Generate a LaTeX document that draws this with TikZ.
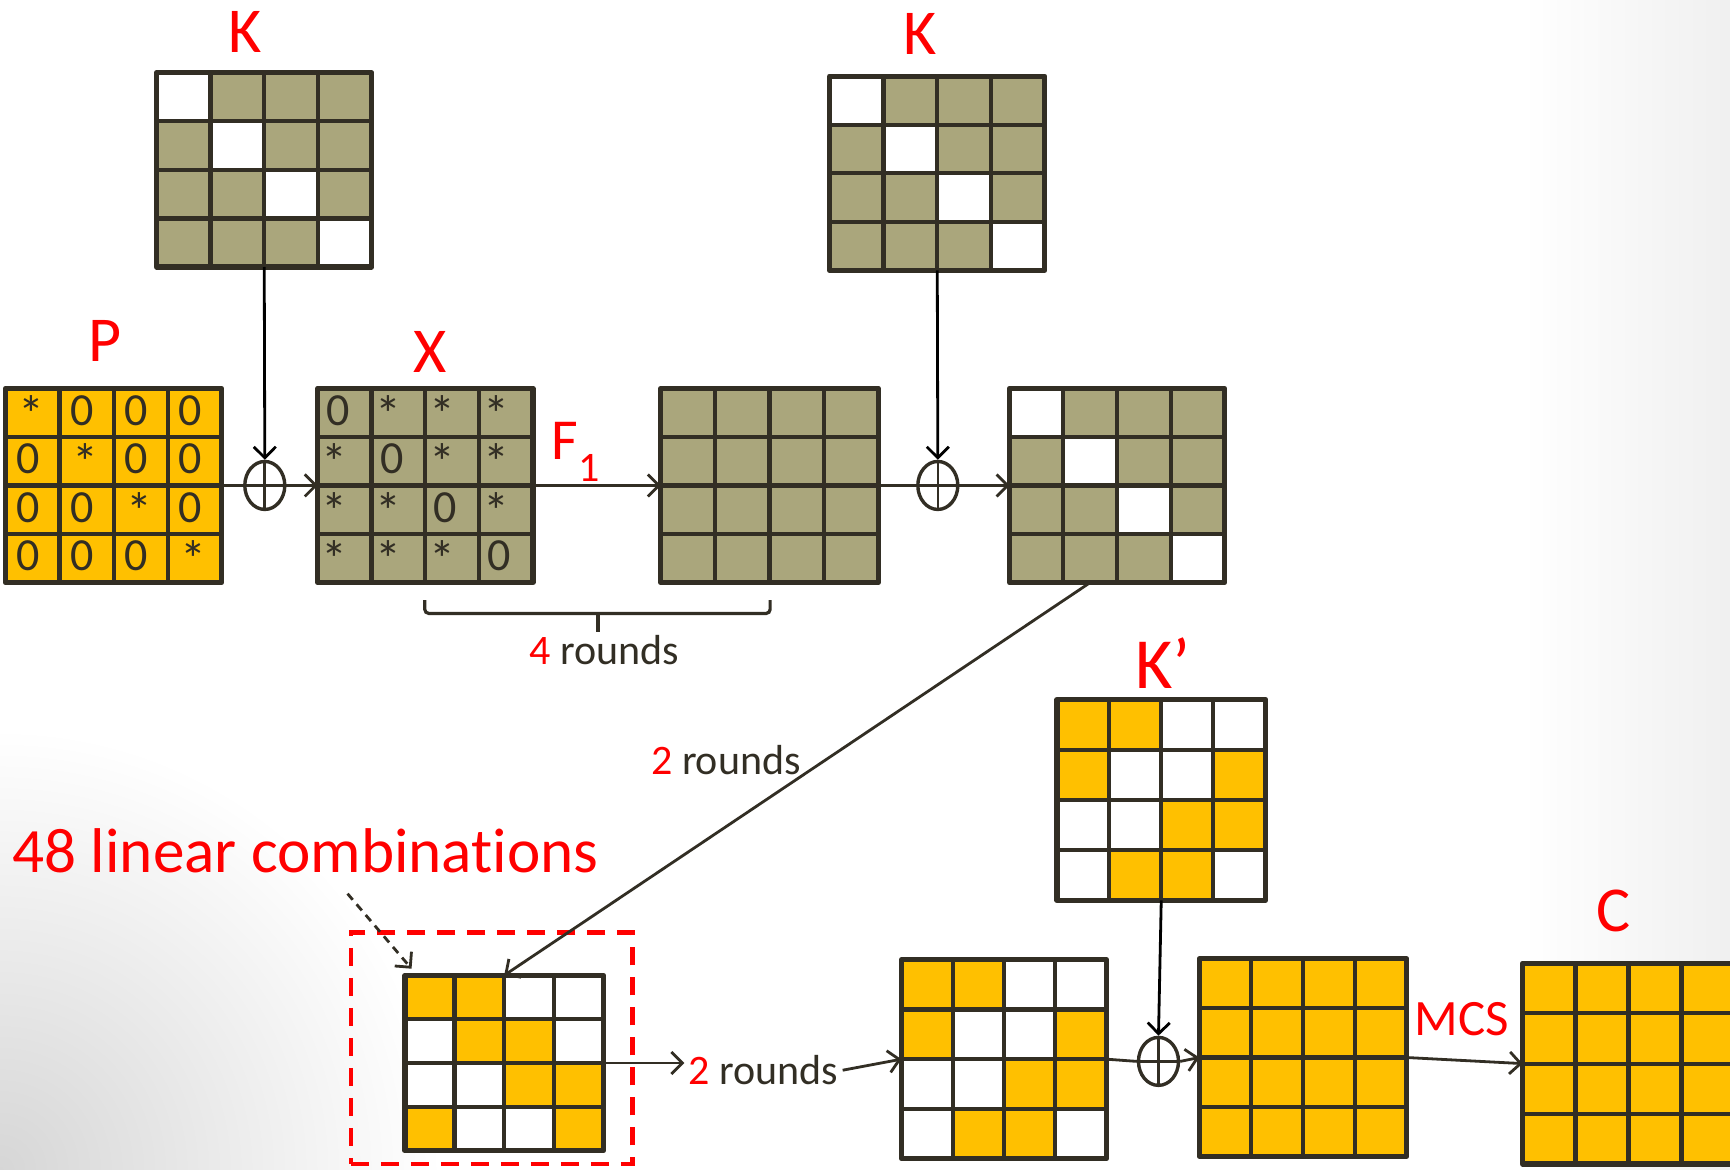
\documentclass[tikz,border=0pt]{standalone}
\usepackage{fontspec}
\setmainfont{Carlito}[Ligatures={TeX,NoCommon}]
\usetikzlibrary{arrows.meta,calc,shapes.geometric}
\definecolor{cY}{RGB}{255,192,0}
\definecolor{cG}{RGB}{170,166,124}
\definecolor{cW}{RGB}{255,255,255}
\definecolor{ink}{RGB}{50,46,36}
\definecolor{lred}{RGB}{255,0,0}
\def\uu{0.5517pt}
\def\txa{a}
\newcommand\astk{{\fontsize{26}{26}\selectfont *}}

\newcommand\mgrid[6]{%
  \node[gbox, minimum width={#4*\uu}, minimum height={#5*\uu}] (#1) at (#2,#3) {};
  \foreach \cl [count=\ii from 0] in {#6} {%
    \pgfmathtruncatemacro\gridr{\ii/4}%
    \pgfmathtruncatemacro\gridc{mod(\ii,4)}%
    \fill[fill=c\cl] ($(#1.north west)+(\gridc*#4/4,\gridr*#5/4)$) rectangle ++(#4/4,#5/4);
  }%
  \foreach \k in {1,2,3} {%
    \draw[gline] ($(#1.north west)+(\k*#4/4,0)$) -- ++(0,#5);
    \draw[gline] ($(#1.north west)+(0,\k*#5/4)$) -- ++(#4,0);
  }%
  \draw[gborder] (#1.north west) rectangle (#1.south east);
}
% name, w, h, shift for 0, shift for *, list (0 / a)
\newcommand\mcells[6]{%
  \foreach \tx [count=\ii from 0] in {#6} {%
    \pgfmathtruncatemacro\gridr{\ii/4}%
    \pgfmathtruncatemacro\gridc{mod(\ii,4)}%
    \ifx\tx\txa
      \node[celltxt] (#1-\ii) at ($(#1.north west)+(\gridc*#2/4+#2/8+#5,\gridr*#3/4+#3/8+1)$) {\astk};
    \else
      \node[celltxt] (#1-\ii) at ($(#1.north west)+(\gridc*#2/4+#2/8+#4,\gridr*#3/4+#3/8-2)$) {0};
    \fi
  }}

\begin{document}
\begin{tikzpicture}[x=0.5517pt,y=-0.5517pt,
  gbox/.style={rectangle, inner sep=0pt, outer sep=0pt},
  gline/.style={draw=ink, line width=2.1pt},
  gborder/.style={draw=ink, line width=2.6pt, line join=round},
  celltxt/.style={text=ink, inner sep=0pt, font=\fontsize{23}{25}\selectfont},
  lab/.style={text=lred, inner sep=0pt, font=\fontsize{32}{38}\selectfont},
  rnd/.style={text=ink, inner sep=2pt, font=\fontsize{21}{25}\selectfont},
  xorc/.style={ellipse, draw=ink, line width=1.7pt, minimum width=20pt, minimum height=24pt, inner sep=0pt},
  conn/.style={draw=ink, line width=1.4pt},
  arr/.style={conn, -{Straight Barb[length=5.5pt,width=11pt,line width=1.4pt]}},
]
\useasboundingbox (0,0) rectangle (1568,1060);
% background
\begin{scope}
\clip (0,0) rectangle (1568,1060);
\fill[white] (0,0) rectangle (1568,1060);
\shade[inner color=black!16, outer color=white] (0,1060) circle (400);
\shade[left color=white, right color=black!6] (1380,0) rectangle (1568,1060);
\end{scope}

% grids
\mgrid{K1}{239.5}{154}{195}{176}{W,G,G,G, G,W,G,G, G,G,W,G, G,G,G,W}
\mgrid{K2}{849.5}{157}{195}{176}{W,G,G,G, G,W,G,G, G,G,W,G, G,G,G,W}
\mgrid{P}{103}{440}{196}{176}{Y,Y,Y,Y, Y,Y,Y,Y, Y,Y,Y,Y, Y,Y,Y,Y}
\mcells{P}{196}{176}{-4}{-1}{a,0,0,0, 0,a,0,0, 0,0,a,0, 0,0,0,a}
\mgrid{X}{385.5}{440}{195}{176}{G,G,G,G, G,G,G,G, G,G,G,G, G,G,G,G}
\mcells{X}{195}{176}{-6}{-9}{0,a,a,a, a,0,a,a, a,a,0,a, a,a,a,0}
\mgrid{G3}{697.5}{440}{197}{176}{G,G,G,G, G,G,G,G, G,G,G,G, G,G,G,G}
\mgrid{G4}{1012.5}{440}{195}{176}{W,G,G,G, G,W,G,G, G,G,W,G, G,G,G,W}
\mgrid{L}{457}{963.5}{180}{159}{Y,Y,W,W, W,Y,Y,W, W,W,Y,Y, Y,W,W,Y}
\mgrid{Kp}{1052.5}{725}{189}{182}{Y,Y,W,W, Y,W,W,Y, W,W,Y,Y, W,Y,Y,W}
\mgrid{M}{910}{960}{186}{180}{Y,Y,W,W, Y,W,W,Y, W,W,Y,Y, W,Y,Y,W}
\mgrid{N}{1181}{958.5}{188}{179}{Y,Y,Y,Y, Y,Y,Y,Y, Y,Y,Y,Y, Y,Y,Y,Y}
\mgrid{C}{1476}{964}{192}{182}{Y,Y,Y,Y, Y,Y,Y,Y, Y,Y,Y,Y, Y,Y,Y,Y}

% xor nodes
\node[xorc] (x1) at (240,440) {};
\node[xorc] (x2) at (850,440) {};
\node[xorc] (x3) at (1050,962) {};
\foreach \n in {x1,x2,x3} {
  \draw[ink, line width=1.3pt] (\n.north) -- (\n.south);
  \draw[ink, line width=1.3pt] (\n.west) -- (\n.east);
}

% labels
\node[lab] (lK1) at (222,29) {K};
\node[lab] (lK2) at (834,31) {K};
\node[lab] (lP) at (95,309) {P};
\node[lab] (lX) at (390,319) {X};
\node[lab, font=\fontsize{29}{34}\selectfont] (lF) at (522,410) {F\raisebox{-0.38em}{\fontsize{21}{24}\selectfont 1}};
\node[lab, font=\fontsize{36}{42}\selectfont] (lKp) at (1054,601) {K’};
\node[lab] (lC) at (1462,826) {C};
\node[lab, font=\fontsize{25.5}{30}\selectfont] (lMCS) at (1325,924) {MCS};
\node[lab, font=\fontsize{31.6}{38}\selectfont] (l48) at (277,771) {48 linear combinations};
\node[rnd] (r4) at (548,589) {\textcolor{lred}{4} rounds};
\node[rnd] (r2a) at (658,689) {\textcolor{lred}{2} rounds};
\node[rnd] (r2b) at (692,970) {\textcolor{lred}{2} rounds};

% red dashed selection box
\node[draw=lred, line width=2.3pt, dash pattern=on 9pt off 6pt, minimum width={255*\uu}, minimum height={210*\uu}, inner sep=0pt] (sel) at (445.5,950) {};

% brace
\coordinate (bl) at (385,544);
\coordinate (br) at (698,544);
\coordinate (bm) at (542,573);
\draw[conn, line width=1.6pt, rounded corners=2pt] (bl) -- ++(0,12) -| (br);
\draw[conn, line width=1.6pt] (bm |- 0,556) -- (bm);

% connectors
\draw[conn] (P.east) -- (x1.west);
\draw[arr] (x1.east) -- (X.west);
\draw[arr, draw=black] (K1.south) -- (x1.north);
\draw[arr] (X.east) -- (G3.west);
\draw[conn] (G3.east) -- (x2.west);
\draw[arr] (x2.east) -- (G4.west);
\draw[arr, draw=black] (K2.south) -- (x2.north);
\coordinate (g4out) at ($(G4.south west)!0.375!(G4.south east)$);
\draw[arr] (g4out) -- (L.north);
\coordinate (dstart) at (315,810);
\draw[arr, dash pattern=on 4pt off 3pt] (dstart) -- ($(L.north west)+(6,-6)$);
\draw[arr] (L.east) -- (L.east -| r2b.west);
\draw[arr] (r2b.east) -- (M.west);
\draw[conn] (M.east) -- (x3.west);
\draw[arr] (x3.east) -- (N.west);
\draw[arr, draw=black] (Kp.south) -- (x3.north);
\draw[arr] (N.east) -- (C.west);
\end{tikzpicture}
\end{document}
